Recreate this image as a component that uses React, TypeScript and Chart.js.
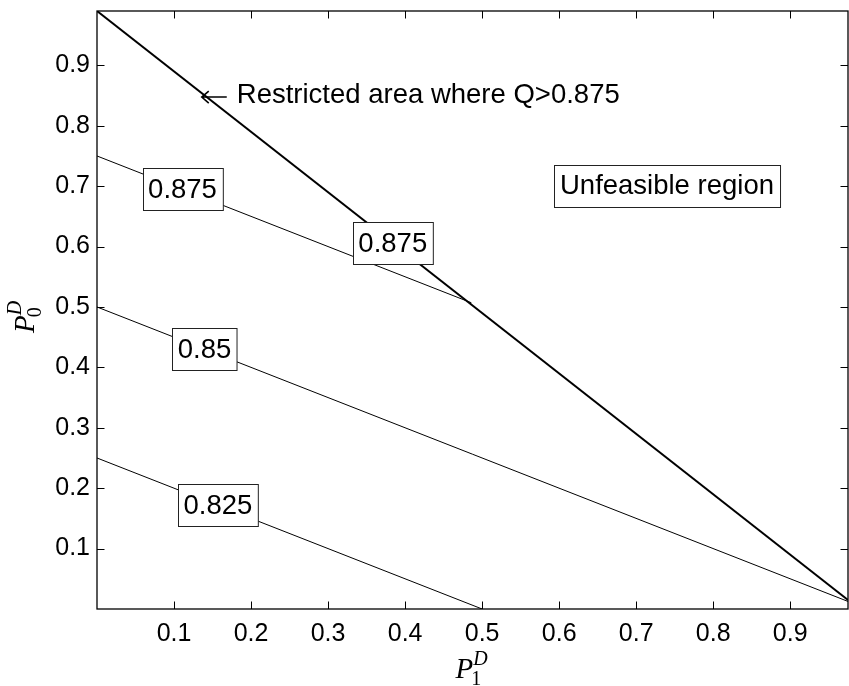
import React, { useEffect, useRef } from "react";
import { Chart, registerables } from "chart.js";

Chart.register(...registerables);

// Axis extents and tick positions
const X_MIN = 0;
const X_MAX = 0.975;
const Y_MIN = 0;
const Y_MAX = 0.99;
const tickValues = [0.1, 0.2, 0.3, 0.4, 0.5, 0.6, 0.7, 0.8, 0.9];

// Feasibility boundary (P0 + P1 = 0.99), also the 0.875 level
const boundaryX = [0, 0.975];
const boundaryY = [0.99, 0.015];

// Iso-Q contour lines
const level875X = [0, 0.486];
const level875Y = [0.75, 0.507];
const level850X = [0, 0.975];
const level850Y = [0.5, 0.0125];
const level825X = [0, 0.5];
const level825Y = [0.25, 0];

// Inline contour labels (text and anchor point in data units)
const contourLabelText = ["0.875", "0.875", "0.85", "0.825"];
const contourLabelX = [0.111, 0.384, 0.1396, 0.157];
const contourLabelY = [0.695, 0.606, 0.43, 0.1715];

// Annotations
const regionLabel = "Unfeasible region";
const regionLabelX = 0.74;
const regionLabelY = 0.701;
const restrictedNote = "Restricted area where Q>0.875";
const restrictedArrowX = 0.136;
const restrictedNoteX = 0.1815;
const restrictedNoteY = 0.85;

const SANS = "'Liberation Sans', Arial, Helvetica, sans-serif";
const SERIF = "'Liberation Serif', 'Times New Roman', serif";

const toPoints = (xs: number[], ys: number[]) => xs.map((x, i) => ({ x, y: ys[i] }));

const drawBoxedLabel = (ctx: CanvasRenderingContext2D, text: string, cx: number, cy: number, padX: number) => {
  ctx.font = `27.5px ${SANS}`;
  const w = ctx.measureText(text).width + padX * 2;
  const h = 42;
  const bx = Math.round(cx - w / 2) + 0.5;
  const by = Math.round(cy - h / 2) + 0.5;
  ctx.fillStyle = "#fff";
  ctx.fillRect(bx, by, w, h);
  ctx.strokeStyle = "#222";
  ctx.lineWidth = 1;
  ctx.strokeRect(bx, by, w, h);
  ctx.fillStyle = "#000";
  ctx.textAlign = "center";
  ctx.textBaseline = "middle";
  ctx.fillText(text, cx, cy + 1);
};

const decorations = {
  id: "decorations",
  afterDraw(chart: any) {
    const { ctx, chartArea, scales } = chart;
    const { left, right, top, bottom } = chartArea;
    const xs = scales.x;
    const ys = scales.y;
    ctx.save();

    // Axes box
    ctx.strokeStyle = "#000";
    ctx.lineWidth = 1.3;
    ctx.strokeRect(left, top, right - left, bottom - top);

    // Inward tick marks on all four sides
    const tl = 7.5;
    ctx.lineWidth = 1;
    ctx.beginPath();
    tickValues.forEach((v) => {
      const px = Math.round(xs.getPixelForValue(v)) + 0.5;
      ctx.moveTo(px, bottom);
      ctx.lineTo(px, bottom - tl);
      ctx.moveTo(px, top);
      ctx.lineTo(px, top + tl);
      const py = Math.round(ys.getPixelForValue(v)) + 0.5;
      ctx.moveTo(left, py);
      ctx.lineTo(left + tl, py);
      ctx.moveTo(right, py);
      ctx.lineTo(right - tl, py);
    });
    ctx.stroke();

    // Contour labels
    contourLabelText.forEach((t, i) => {
      drawBoxedLabel(ctx, t, xs.getPixelForValue(contourLabelX[i]), ys.getPixelForValue(contourLabelY[i]), 5.5);
    });
    drawBoxedLabel(ctx, regionLabel, xs.getPixelForValue(regionLabelX), ys.getPixelForValue(regionLabelY), 6);

    // Restricted-area note with its left arrow
    const ny = ys.getPixelForValue(restrictedNoteY);
    const ax0 = xs.getPixelForValue(restrictedArrowX);
    const ax1 = ax0 + 25;
    ctx.strokeStyle = "#000";
    ctx.lineWidth = 1.6;
    ctx.beginPath();
    ctx.moveTo(ax1, ny + 1.5);
    ctx.lineTo(ax0, ny + 1.5);
    ctx.moveTo(ax0 + 7, ny - 4.5);
    ctx.lineTo(ax0, ny + 1.5);
    ctx.lineTo(ax0 + 7, ny + 7.5);
    ctx.stroke();
    ctx.font = `27.5px ${SANS}`;
    ctx.fillStyle = "#000";
    ctx.textAlign = "left";
    ctx.textBaseline = "middle";
    ctx.fillText(restrictedNote, xs.getPixelForValue(restrictedNoteX), ny);

    // Axis titles: P_1^D and P_0^D
    const drawSymbol = (sub: string) => {
      ctx.textAlign = "left";
      ctx.textBaseline = "alphabetic";
      ctx.font = `italic 29px ${SERIF}`;
      ctx.fillText("P", 0, 0);
      const pw = ctx.measureText("P").width;
      ctx.font = `italic 20px ${SERIF}`;
      ctx.fillText("D", pw, -13);
      ctx.font = `20px ${SERIF}`;
      ctx.fillText(sub, pw - 2, 7);
    };
    ctx.save();
    ctx.translate((left + right) / 2 - 17, 678);
    drawSymbol("1");
    ctx.restore();

    ctx.save();
    ctx.translate(34, 333);
    ctx.rotate(-Math.PI / 2);
    drawSymbol("0");
    ctx.restore();

    ctx.restore();
  },
};

export default function App() {
  const canvasRef = useRef<HTMLCanvasElement | null>(null);

  useEffect(() => {
    if (!canvasRef.current) return;
    const lineSet = (xs: number[], ys: number[], width: number) => ({
      data: toPoints(xs, ys),
      showLine: true,
      borderColor: "#000",
      borderWidth: width,
      pointRadius: 0,
      fill: false,
    });
    const tickFont = { family: SANS, size: 25 };
    const chart = new Chart(canvasRef.current, {
      type: "scatter",
      data: {
        datasets: [
          lineSet(boundaryX, boundaryY, 2),
          lineSet(level875X, level875Y, 1),
          lineSet(level850X, level850Y, 1),
          lineSet(level825X, level825Y, 1),
        ],
      },
      options: {
        animation: false,
        responsive: true,
        maintainAspectRatio: false,
        layout: { padding: { top: 11, right: 1, left: 0, bottom: 0 } },
        plugins: { legend: { display: false }, tooltip: { enabled: false } },
        scales: {
          x: {
            type: "linear",
            min: X_MIN,
            max: X_MAX,
            grid: { display: false, drawTicks: false },
            border: { display: false },
            afterBuildTicks: (s: any) => {
              s.ticks = tickValues.map((v) => ({ value: v }));
            },
            afterFit: (s: any) => {
              s.height = 77;
              s.paddingLeft = 0;
              s.paddingRight = 0;
            },
            ticks: {
              autoSkip: false,
              maxRotation: 0,
              color: "#000",
              font: tickFont,
              padding: 10,
              callback: (v: any) => Number(v).toFixed(1),
            },
          },
          y: {
            type: "linear",
            min: Y_MIN,
            max: Y_MAX,
            grid: { display: false, drawTicks: false },
            border: { display: false },
            afterBuildTicks: (s: any) => {
              s.ticks = tickValues.map((v) => ({ value: v }));
            },
            afterFit: (s: any) => {
              s.width = 97;
              s.paddingTop = 0;
              s.paddingBottom = 0;
            },
            ticks: {
              autoSkip: false,
              color: "#000",
              font: tickFont,
              padding: 7,
              callback: (v: any) => Number(v).toFixed(1),
            },
          },
        },
      },
      plugins: [decorations],
    } as any);
    return () => chart.destroy();
  }, []);

  return (
    <div style={{ position: "fixed", left: 0, top: 0, width: 849, height: 686, background: "#fff" }}>
      <canvas ref={canvasRef} />
    </div>
  );
}
